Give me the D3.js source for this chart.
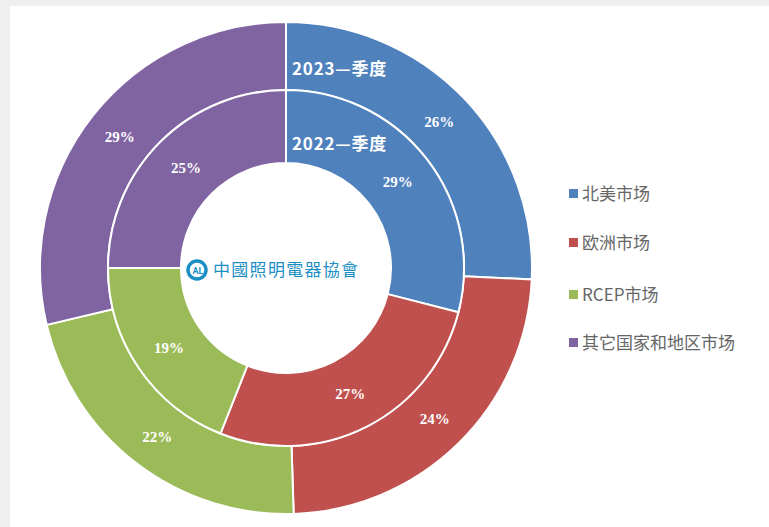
<!DOCTYPE html>
<html>
<head>
<meta charset="utf-8">
<script src="https://cdn.jsdelivr.net/npm/d3@7"></script>
<style>
  html, body { margin: 0; padding: 0; background: #efefef; }
  #viz { position: absolute; left: 10px; top: 6px; width: 759px; height: 521px; background: #fff; }
</style>
</head>
<body>
<div id="viz"></div>
<script>
const markets = ['北美市场', '欧洲市场', 'RCEP市场', '其它国家和地区市场'];
const colors = ['#4f81bd', '#c0504d', '#9bbb59', '#8064a2'];
const share2023 = [26, 24, 22, 29];
const share2022 = [29, 27, 19, 25];
const ringTitles = ['2023—季度', '2022—季度'];

const width = 769;
const height = 527;
const cx = 286;
const cy = 268;

const svg = d3.select('body')
  .append('svg')
  .attr('width', width)
  .attr('height', height)
  .style('position', 'absolute')
  .style('left', 0)
  .style('top', 0);

const pie = d3.pie().sort(null).value(d => d);
const g = svg.append('g').attr('transform', `translate(${cx},${cy})`);

const drawRing = (values, inner, outer) => {
  const arc = d3.arc().innerRadius(inner).outerRadius(outer);
  const ring = g.append('g');
  const arcs = pie(values);

  ring.selectAll('path')
    .data(arcs)
    .enter()
    .append('path')
    .attr('d', arc)
    .attr('fill', (d, i) => colors[i])
    .attr('stroke', '#fff')
    .attr('stroke-width', 2);

  ring.selectAll('text')
    .data(arcs)
    .enter()
    .append('text')
    .attr('x', d => arc.centroid(d)[0])
    .attr('y', d => arc.centroid(d)[1])
    .attr('dy', '0.35em')
    .attr('text-anchor', 'middle')
    .attr('fill', '#fff')
    .attr('font-family', '"Liberation Serif", "Times New Roman", serif')
    .attr('font-weight', 'bold')
    .attr('font-size', 15)
    .text(d => d.data + '%');
};

drawRing(share2023, 178, 246);
drawRing(share2022, 105, 178);

// ring titles
g.selectAll('.ring-title')
  .data(ringTitles)
  .enter()
  .append('text')
  .attr('class', 'ring-title')
  .attr('x', 6)
  .attr('y', (d, i) => [-193, -118][i])
  .attr('fill', '#fff')
  .attr('font-family', '"Noto Sans CJK SC", "DejaVu Sans", sans-serif')
  .attr('font-weight', 'bold')
  .attr('font-size', 17)
  .attr('letter-spacing', 0.8)
  .text(d => d);

// centre logo
const logo = g.append('g').attr('transform', 'translate(-89,2)');
logo.append('circle')
  .attr('r', 9)
  .attr('fill', 'none')
  .attr('stroke', '#1b8fc4')
  .attr('stroke-width', 3.5);
logo.append('text')
  .attr('x', 1)
  .attr('y', 4)
  .attr('text-anchor', 'middle')
  .attr('fill', '#1b8fc4')
  .attr('font-family', 'Roboto, sans-serif')
  .attr('font-weight', 'bold')
  .attr('font-size', 9)
  .text('AL');
logo.append('text')
  .attr('x', 16)
  .attr('y', 6)
  .attr('fill', '#1b8fc4')
  .attr('font-family', '"Noto Sans CJK TC", sans-serif')
  .attr('font-size', 17)
  .attr('letter-spacing', 1.3)
  .text('中國照明電器協會');

// legend
const legend = svg.append('g').attr('transform', 'translate(569,0)');
const rowY = [194, 243, 295, 343];
const item = legend.selectAll('g')
  .data(markets)
  .enter()
  .append('g')
  .attr('transform', (d, i) => `translate(0,${rowY[i]})`);

item.append('rect')
  .attr('x', 0)
  .attr('y', -5)
  .attr('width', 9)
  .attr('height', 9)
  .attr('fill', (d, i) => colors[i]);

item.append('text')
  .attr('x', 13)
  .attr('dy', '0.35em')
  .attr('fill', '#666')
  .attr('font-family', '"Noto Sans CJK SC", sans-serif')
  .attr('font-size', 17)
  .text(d => d);
</script>
</body>
</html>
